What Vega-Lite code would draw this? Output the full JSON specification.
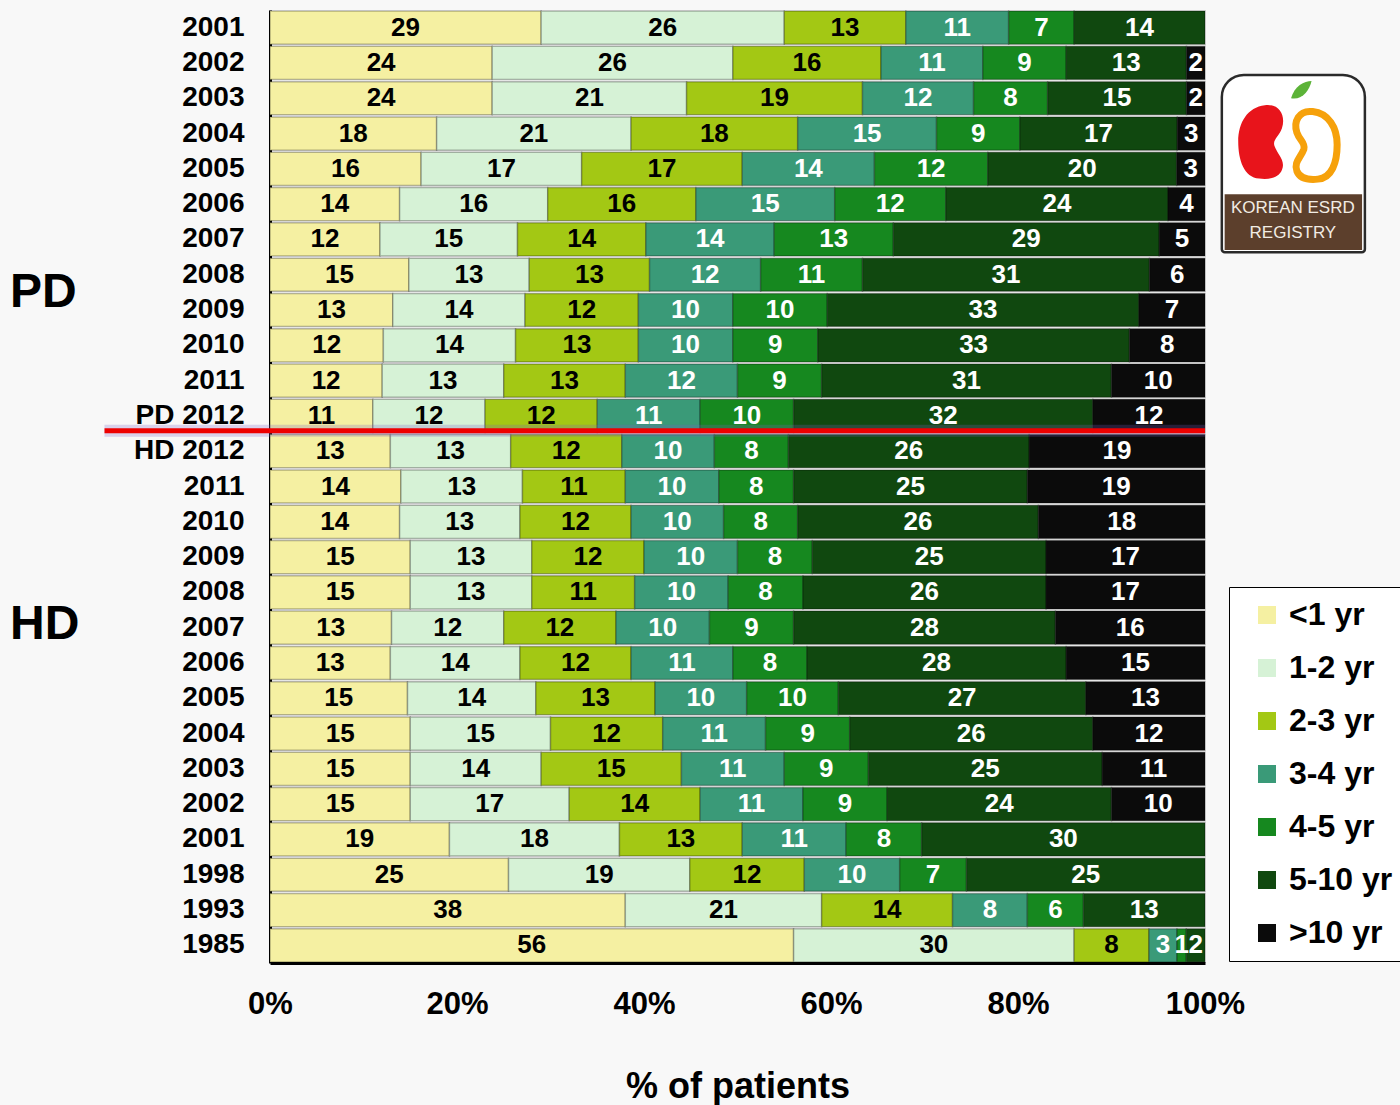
{
  "$schema": "https://vega.github.io/schema/vega-lite/v6.json",
  "width": 935,
  "height": 953,
  "autosize": {"type": "none"},
  "padding": {"left": 270, "top": 10, "right": 195, "bottom": 142},
  "background": "#f8f8f8",
  "config": {
    "font": "Liberation Sans",
    "view": {"stroke": null}
  },
  "datasets": {
    "classes": [
      {"cls": "<1 yr", "idx": 0},
      {"cls": "1-2 yr", "idx": 1},
      {"cls": "2-3 yr", "idx": 2},
      {"cls": "3-4 yr", "idx": 3},
      {"cls": "4-5 yr", "idx": 4},
      {"cls": "5-10 yr", "idx": 5},
      {"cls": ">10 yr", "idx": 6}
    ],
    "shares": [
      {"row": "PD 2001", "cls": "<1 yr", "pct": 29}, {"row": "PD 2001", "cls": "1-2 yr", "pct": 26}, {"row": "PD 2001", "cls": "2-3 yr", "pct": 13}, {"row": "PD 2001", "cls": "3-4 yr", "pct": 11}, {"row": "PD 2001", "cls": "4-5 yr", "pct": 7}, {"row": "PD 2001", "cls": "5-10 yr", "pct": 14},
      {"row": "PD 2002", "cls": "<1 yr", "pct": 24}, {"row": "PD 2002", "cls": "1-2 yr", "pct": 26}, {"row": "PD 2002", "cls": "2-3 yr", "pct": 16}, {"row": "PD 2002", "cls": "3-4 yr", "pct": 11}, {"row": "PD 2002", "cls": "4-5 yr", "pct": 9}, {"row": "PD 2002", "cls": "5-10 yr", "pct": 13}, {"row": "PD 2002", "cls": ">10 yr", "pct": 2},
      {"row": "PD 2003", "cls": "<1 yr", "pct": 24}, {"row": "PD 2003", "cls": "1-2 yr", "pct": 21}, {"row": "PD 2003", "cls": "2-3 yr", "pct": 19}, {"row": "PD 2003", "cls": "3-4 yr", "pct": 12}, {"row": "PD 2003", "cls": "4-5 yr", "pct": 8}, {"row": "PD 2003", "cls": "5-10 yr", "pct": 15}, {"row": "PD 2003", "cls": ">10 yr", "pct": 2},
      {"row": "PD 2004", "cls": "<1 yr", "pct": 18}, {"row": "PD 2004", "cls": "1-2 yr", "pct": 21}, {"row": "PD 2004", "cls": "2-3 yr", "pct": 18}, {"row": "PD 2004", "cls": "3-4 yr", "pct": 15}, {"row": "PD 2004", "cls": "4-5 yr", "pct": 9}, {"row": "PD 2004", "cls": "5-10 yr", "pct": 17}, {"row": "PD 2004", "cls": ">10 yr", "pct": 3},
      {"row": "PD 2005", "cls": "<1 yr", "pct": 16}, {"row": "PD 2005", "cls": "1-2 yr", "pct": 17}, {"row": "PD 2005", "cls": "2-3 yr", "pct": 17}, {"row": "PD 2005", "cls": "3-4 yr", "pct": 14}, {"row": "PD 2005", "cls": "4-5 yr", "pct": 12}, {"row": "PD 2005", "cls": "5-10 yr", "pct": 20}, {"row": "PD 2005", "cls": ">10 yr", "pct": 3},
      {"row": "PD 2006", "cls": "<1 yr", "pct": 14}, {"row": "PD 2006", "cls": "1-2 yr", "pct": 16}, {"row": "PD 2006", "cls": "2-3 yr", "pct": 16}, {"row": "PD 2006", "cls": "3-4 yr", "pct": 15}, {"row": "PD 2006", "cls": "4-5 yr", "pct": 12}, {"row": "PD 2006", "cls": "5-10 yr", "pct": 24}, {"row": "PD 2006", "cls": ">10 yr", "pct": 4},
      {"row": "PD 2007", "cls": "<1 yr", "pct": 12}, {"row": "PD 2007", "cls": "1-2 yr", "pct": 15}, {"row": "PD 2007", "cls": "2-3 yr", "pct": 14}, {"row": "PD 2007", "cls": "3-4 yr", "pct": 14}, {"row": "PD 2007", "cls": "4-5 yr", "pct": 13}, {"row": "PD 2007", "cls": "5-10 yr", "pct": 29}, {"row": "PD 2007", "cls": ">10 yr", "pct": 5},
      {"row": "PD 2008", "cls": "<1 yr", "pct": 15}, {"row": "PD 2008", "cls": "1-2 yr", "pct": 13}, {"row": "PD 2008", "cls": "2-3 yr", "pct": 13}, {"row": "PD 2008", "cls": "3-4 yr", "pct": 12}, {"row": "PD 2008", "cls": "4-5 yr", "pct": 11}, {"row": "PD 2008", "cls": "5-10 yr", "pct": 31}, {"row": "PD 2008", "cls": ">10 yr", "pct": 6},
      {"row": "PD 2009", "cls": "<1 yr", "pct": 13}, {"row": "PD 2009", "cls": "1-2 yr", "pct": 14}, {"row": "PD 2009", "cls": "2-3 yr", "pct": 12}, {"row": "PD 2009", "cls": "3-4 yr", "pct": 10}, {"row": "PD 2009", "cls": "4-5 yr", "pct": 10}, {"row": "PD 2009", "cls": "5-10 yr", "pct": 33}, {"row": "PD 2009", "cls": ">10 yr", "pct": 7},
      {"row": "PD 2010", "cls": "<1 yr", "pct": 12}, {"row": "PD 2010", "cls": "1-2 yr", "pct": 14}, {"row": "PD 2010", "cls": "2-3 yr", "pct": 13}, {"row": "PD 2010", "cls": "3-4 yr", "pct": 10}, {"row": "PD 2010", "cls": "4-5 yr", "pct": 9}, {"row": "PD 2010", "cls": "5-10 yr", "pct": 33}, {"row": "PD 2010", "cls": ">10 yr", "pct": 8},
      {"row": "PD 2011", "cls": "<1 yr", "pct": 12}, {"row": "PD 2011", "cls": "1-2 yr", "pct": 13}, {"row": "PD 2011", "cls": "2-3 yr", "pct": 13}, {"row": "PD 2011", "cls": "3-4 yr", "pct": 12}, {"row": "PD 2011", "cls": "4-5 yr", "pct": 9}, {"row": "PD 2011", "cls": "5-10 yr", "pct": 31}, {"row": "PD 2011", "cls": ">10 yr", "pct": 10},
      {"row": "PD 2012", "cls": "<1 yr", "pct": 11}, {"row": "PD 2012", "cls": "1-2 yr", "pct": 12}, {"row": "PD 2012", "cls": "2-3 yr", "pct": 12}, {"row": "PD 2012", "cls": "3-4 yr", "pct": 11}, {"row": "PD 2012", "cls": "4-5 yr", "pct": 10}, {"row": "PD 2012", "cls": "5-10 yr", "pct": 32}, {"row": "PD 2012", "cls": ">10 yr", "pct": 12},
      {"row": "HD 2012", "cls": "<1 yr", "pct": 13}, {"row": "HD 2012", "cls": "1-2 yr", "pct": 13}, {"row": "HD 2012", "cls": "2-3 yr", "pct": 12}, {"row": "HD 2012", "cls": "3-4 yr", "pct": 10}, {"row": "HD 2012", "cls": "4-5 yr", "pct": 8}, {"row": "HD 2012", "cls": "5-10 yr", "pct": 26}, {"row": "HD 2012", "cls": ">10 yr", "pct": 19},
      {"row": "HD 2011", "cls": "<1 yr", "pct": 14}, {"row": "HD 2011", "cls": "1-2 yr", "pct": 13}, {"row": "HD 2011", "cls": "2-3 yr", "pct": 11}, {"row": "HD 2011", "cls": "3-4 yr", "pct": 10}, {"row": "HD 2011", "cls": "4-5 yr", "pct": 8}, {"row": "HD 2011", "cls": "5-10 yr", "pct": 25}, {"row": "HD 2011", "cls": ">10 yr", "pct": 19},
      {"row": "HD 2010", "cls": "<1 yr", "pct": 14}, {"row": "HD 2010", "cls": "1-2 yr", "pct": 13}, {"row": "HD 2010", "cls": "2-3 yr", "pct": 12}, {"row": "HD 2010", "cls": "3-4 yr", "pct": 10}, {"row": "HD 2010", "cls": "4-5 yr", "pct": 8}, {"row": "HD 2010", "cls": "5-10 yr", "pct": 26}, {"row": "HD 2010", "cls": ">10 yr", "pct": 18},
      {"row": "HD 2009", "cls": "<1 yr", "pct": 15}, {"row": "HD 2009", "cls": "1-2 yr", "pct": 13}, {"row": "HD 2009", "cls": "2-3 yr", "pct": 12}, {"row": "HD 2009", "cls": "3-4 yr", "pct": 10}, {"row": "HD 2009", "cls": "4-5 yr", "pct": 8}, {"row": "HD 2009", "cls": "5-10 yr", "pct": 25}, {"row": "HD 2009", "cls": ">10 yr", "pct": 17},
      {"row": "HD 2008", "cls": "<1 yr", "pct": 15}, {"row": "HD 2008", "cls": "1-2 yr", "pct": 13}, {"row": "HD 2008", "cls": "2-3 yr", "pct": 11}, {"row": "HD 2008", "cls": "3-4 yr", "pct": 10}, {"row": "HD 2008", "cls": "4-5 yr", "pct": 8}, {"row": "HD 2008", "cls": "5-10 yr", "pct": 26}, {"row": "HD 2008", "cls": ">10 yr", "pct": 17},
      {"row": "HD 2007", "cls": "<1 yr", "pct": 13}, {"row": "HD 2007", "cls": "1-2 yr", "pct": 12}, {"row": "HD 2007", "cls": "2-3 yr", "pct": 12}, {"row": "HD 2007", "cls": "3-4 yr", "pct": 10}, {"row": "HD 2007", "cls": "4-5 yr", "pct": 9}, {"row": "HD 2007", "cls": "5-10 yr", "pct": 28}, {"row": "HD 2007", "cls": ">10 yr", "pct": 16},
      {"row": "HD 2006", "cls": "<1 yr", "pct": 13}, {"row": "HD 2006", "cls": "1-2 yr", "pct": 14}, {"row": "HD 2006", "cls": "2-3 yr", "pct": 12}, {"row": "HD 2006", "cls": "3-4 yr", "pct": 11}, {"row": "HD 2006", "cls": "4-5 yr", "pct": 8}, {"row": "HD 2006", "cls": "5-10 yr", "pct": 28}, {"row": "HD 2006", "cls": ">10 yr", "pct": 15},
      {"row": "HD 2005", "cls": "<1 yr", "pct": 15}, {"row": "HD 2005", "cls": "1-2 yr", "pct": 14}, {"row": "HD 2005", "cls": "2-3 yr", "pct": 13}, {"row": "HD 2005", "cls": "3-4 yr", "pct": 10}, {"row": "HD 2005", "cls": "4-5 yr", "pct": 10}, {"row": "HD 2005", "cls": "5-10 yr", "pct": 27}, {"row": "HD 2005", "cls": ">10 yr", "pct": 13},
      {"row": "HD 2004", "cls": "<1 yr", "pct": 15}, {"row": "HD 2004", "cls": "1-2 yr", "pct": 15}, {"row": "HD 2004", "cls": "2-3 yr", "pct": 12}, {"row": "HD 2004", "cls": "3-4 yr", "pct": 11}, {"row": "HD 2004", "cls": "4-5 yr", "pct": 9}, {"row": "HD 2004", "cls": "5-10 yr", "pct": 26}, {"row": "HD 2004", "cls": ">10 yr", "pct": 12},
      {"row": "HD 2003", "cls": "<1 yr", "pct": 15}, {"row": "HD 2003", "cls": "1-2 yr", "pct": 14}, {"row": "HD 2003", "cls": "2-3 yr", "pct": 15}, {"row": "HD 2003", "cls": "3-4 yr", "pct": 11}, {"row": "HD 2003", "cls": "4-5 yr", "pct": 9}, {"row": "HD 2003", "cls": "5-10 yr", "pct": 25}, {"row": "HD 2003", "cls": ">10 yr", "pct": 11},
      {"row": "HD 2002", "cls": "<1 yr", "pct": 15}, {"row": "HD 2002", "cls": "1-2 yr", "pct": 17}, {"row": "HD 2002", "cls": "2-3 yr", "pct": 14}, {"row": "HD 2002", "cls": "3-4 yr", "pct": 11}, {"row": "HD 2002", "cls": "4-5 yr", "pct": 9}, {"row": "HD 2002", "cls": "5-10 yr", "pct": 24}, {"row": "HD 2002", "cls": ">10 yr", "pct": 10},
      {"row": "HD 2001", "cls": "<1 yr", "pct": 19}, {"row": "HD 2001", "cls": "1-2 yr", "pct": 18}, {"row": "HD 2001", "cls": "2-3 yr", "pct": 13}, {"row": "HD 2001", "cls": "3-4 yr", "pct": 11}, {"row": "HD 2001", "cls": "4-5 yr", "pct": 8}, {"row": "HD 2001", "cls": "5-10 yr", "pct": 30},
      {"row": "HD 1998", "cls": "<1 yr", "pct": 25}, {"row": "HD 1998", "cls": "1-2 yr", "pct": 19}, {"row": "HD 1998", "cls": "2-3 yr", "pct": 12}, {"row": "HD 1998", "cls": "3-4 yr", "pct": 10}, {"row": "HD 1998", "cls": "4-5 yr", "pct": 7}, {"row": "HD 1998", "cls": "5-10 yr", "pct": 25},
      {"row": "HD 1993", "cls": "<1 yr", "pct": 38}, {"row": "HD 1993", "cls": "1-2 yr", "pct": 21}, {"row": "HD 1993", "cls": "2-3 yr", "pct": 14}, {"row": "HD 1993", "cls": "3-4 yr", "pct": 8}, {"row": "HD 1993", "cls": "4-5 yr", "pct": 6}, {"row": "HD 1993", "cls": "5-10 yr", "pct": 13},
      {"row": "HD 1985", "cls": "<1 yr", "pct": 56}, {"row": "HD 1985", "cls": "1-2 yr", "pct": 30}, {"row": "HD 1985", "cls": "2-3 yr", "pct": 8}, {"row": "HD 1985", "cls": "3-4 yr", "pct": 3}, {"row": "HD 1985", "cls": "4-5 yr", "pct": 1}, {"row": "HD 1985", "cls": "5-10 yr", "pct": 2}
    ]
  },
  "layer": [
    {
      "layer": [
        {
          "data": {"name": "shares"},
          "transform": [
            {"lookup": "cls", "from": {"data": {"name": "classes"}, "key": "cls", "fields": ["idx"]}},
            {"stack": "pct", "groupby": ["row"], "sort": [{"field": "idx", "order": "ascending"}], "offset": "normalize", "as": ["x0", "x1"]},
            {"calculate": "(datum.x0 + datum.x1) / 2", "as": "mid"}
          ],
          "layer": [
            {
              "mark": {"type": "bar", "stroke": "#000000", "strokeOpacity": 0.28, "strokeWidth": 1.5},
              "encoding": {
                "y": {
                  "field": "row", "type": "nominal",
                  "scale": {
                    "domain": ["PD 2001", "PD 2002", "PD 2003", "PD 2004", "PD 2005", "PD 2006", "PD 2007", "PD 2008", "PD 2009", "PD 2010", "PD 2011", "PD 2012", "HD 2012", "HD 2011", "HD 2010", "HD 2009", "HD 2008", "HD 2007", "HD 2006", "HD 2005", "HD 2004", "HD 2003", "HD 2002", "HD 2001", "HD 1998", "HD 1993", "HD 1985"],
                    "paddingInner": 0.06, "paddingOuter": 0.03
                  },
                  "axis": {
                    "title": null,
                    "labelExpr": "indexof(datum.value, '2012') >= 0 ? datum.value : substring(datum.value, 3)",
                    "labelFontSize": 28, "labelFontWeight": "bold", "labelColor": "#000000",
                    "labelPadding": 26, "ticks": false,
                    "domainColor": "#000000", "domainWidth": 3
                  }
                },
                "x": {
                  "field": "x0", "type": "quantitative",
                  "scale": {"domain": [0, 1], "nice": false},
                  "axis": {
                    "title": "% of patients", "values": [0, 0.2, 0.4, 0.6, 0.8, 1], "format": ".0%",
                    "labelFontSize": 31, "labelFontWeight": "bold", "labelColor": "#000000", "labelPadding": 26, "labelFlush": false,
                    "ticks": false, "grid": false, "domainColor": "#000000", "domainWidth": 3,
                    "titleFontSize": 36, "titleFontWeight": "bold", "titleColor": "#000000", "titlePadding": 50
                  }
                },
                "x2": {"field": "x1"},
                "color": {
                  "field": "cls", "type": "nominal",
                  "scale": {
                    "domain": ["<1 yr", "1-2 yr", "2-3 yr", "3-4 yr", "4-5 yr", "5-10 yr", ">10 yr"],
                    "range": ["#f5f0a2", "#d6f2d6", "#a3c814", "#3a9a78", "#16881f", "#10480f", "#0b0b0b"]
                  },
                  "legend": {
                    "title": null, "orient": "none", "legendX": 959, "legendY": 577,
                    "symbolType": "square", "symbolSize": 324, "symbolStrokeWidth": 0, "symbolOffset": 10,
                    "labelFontSize": 32, "labelFontWeight": "bold", "labelColor": "#000000", "labelOffset": 6,
                    "rowPadding": 21, "padding": 12, "strokeColor": "#000000", "fillColor": "#ffffff"
                  }
                }
              }
            },
            {
              "mark": {"type": "text", "fontSize": 26, "fontWeight": "bold", "baseline": "middle", "align": "center"},
              "encoding": {
                "y": {"field": "row", "type": "nominal"},
                "x": {"field": "mid", "type": "quantitative"},
                "text": {"field": "pct", "type": "quantitative"},
                "color": {"condition": {"test": "datum.idx >= 3", "value": "#ffffff"}, "value": "#000000"}
              }
            }
          ]
        },
        {
          "data": {"values": [{}]},
          "mark": {"type": "rule", "color": "#7b5cc4", "strokeWidth": 12, "opacity": 0.25},
          "encoding": {
            "x": {"datum": -0.177, "type": "quantitative"},
            "x2": {"datum": 1},
            "y": {"datum": "PD 2012", "type": "nominal", "bandPosition": 0.95}
          }
        },
        {
          "data": {"values": [{}]},
          "mark": {"type": "rule", "color": "#ee0000", "strokeWidth": 5},
          "encoding": {
            "x": {"datum": -0.177, "type": "quantitative"},
            "x2": {"datum": 1},
            "y": {"datum": "PD 2012", "type": "nominal", "bandPosition": 0.95}
          }
        },
        {
          "data": {"values": [{}]},
          "mark": {"type": "text", "text": "PD", "fontSize": 48, "fontWeight": "bold", "align": "left", "baseline": "middle", "color": "#000000"},
          "encoding": {
            "x": {"datum": -0.278, "type": "quantitative"},
            "y": {"datum": "PD 2009", "type": "nominal", "bandPosition": 0}
          }
        },
        {
          "data": {"values": [{}]},
          "mark": {"type": "text", "text": "HD", "fontSize": 48, "fontWeight": "bold", "align": "left", "baseline": "middle", "color": "#000000"},
          "encoding": {
            "x": {"datum": -0.278, "type": "quantitative"},
            "y": {"datum": "HD 2007", "type": "nominal", "bandPosition": 0.42}
          }
        }
      ]
    },
    {
      "data": {"values": [{}]},
      "layer": [
        {
          "mark": {"type": "rect", "fill": "#ffffff", "stroke": "#2a2a2a", "strokeWidth": 2.5, "cornerRadiusTopLeft": 22, "cornerRadiusTopRight": 22, "cornerRadiusBottomLeft": 3, "cornerRadiusBottomRight": 3},
          "encoding": {
            "x": {"datum": 1.018, "type": "quantitative"},
            "x2": {"datum": 1.171},
            "y": {"datum": 1.84, "type": "quantitative", "scale": {"domain": [0, 27], "reverse": true, "nice": false}, "axis": null},
            "y2": {"datum": 6.86}
          }
        },
        {
          "mark": {"type": "rect", "fill": "#5c3f2c"},
          "encoding": {
            "x": {"datum": 1.021, "type": "quantitative"},
            "x2": {"datum": 1.168},
            "y": {"datum": 5.22, "type": "quantitative"},
            "y2": {"datum": 6.8}
          }
        },
        {
          "mark": {"type": "text", "text": "KOREAN ESRD", "fontSize": 17, "color": "#f2ece4", "align": "center", "baseline": "middle"},
          "encoding": {
            "x": {"datum": 1.094, "type": "quantitative"},
            "y": {"datum": 5.62, "type": "quantitative"}
          }
        },
        {
          "mark": {"type": "text", "text": "REGISTRY", "fontSize": 17, "color": "#f2ece4", "align": "center", "baseline": "middle"},
          "encoding": {
            "x": {"datum": 1.094, "type": "quantitative"},
            "y": {"datum": 6.33, "type": "quantitative"}
          }
        },
        {
          "mark": {"type": "point", "filled": true, "fill": "#e8141b", "opacity": 1, "strokeWidth": 0, "size": 5800,
            "shape": "M 0.05,-0.95 C 0.45,-1 0.6,-0.65 0.5,-0.35 C 0.42,-0.12 0.25,-0.05 0.3,0.12 C 0.38,0.35 0.6,0.5 0.5,0.75 C 0.4,1 0.1,1 -0.1,0.98 C -0.5,0.95 -0.65,0.5 -0.65,0 C -0.65,-0.5 -0.4,-0.9 0.05,-0.95 Z"},
          "encoding": {
            "x": {"datum": 1.062, "type": "quantitative"},
            "y": {"datum": 3.72, "type": "quantitative"}
          }
        },
        {
          "mark": {"type": "point", "filled": false, "stroke": "#f6a10b", "opacity": 1, "strokeWidth": 7, "size": 4900,
            "shape": "M -0.05,-0.95 C -0.45,-1 -0.6,-0.65 -0.5,-0.35 C -0.42,-0.12 -0.25,-0.05 -0.3,0.12 C -0.38,0.35 -0.6,0.5 -0.5,0.75 C -0.4,1 -0.1,1 0.1,0.98 C 0.5,0.95 0.65,0.5 0.65,0 C 0.65,-0.5 0.4,-0.9 -0.05,-0.95 Z"},
          "encoding": {
            "x": {"datum": 1.117, "type": "quantitative"},
            "y": {"datum": 3.82, "type": "quantitative"}
          }
        },
        {
          "mark": {"type": "point", "filled": true, "fill": "#5cb338", "opacity": 1, "strokeWidth": 0, "size": 420,
            "shape": "M -1,0.7 C -0.7,-0.5 0.3,-1 1,-1 C 0.8,-0.1 0.1,0.9 -1,0.7 Z"},
          "encoding": {
            "x": {"datum": 1.103, "type": "quantitative"},
            "y": {"datum": 2.3, "type": "quantitative"}
          }
        }
      ]
    }
  ],
  "resolve": {"scale": {"y": "independent"}}
}
